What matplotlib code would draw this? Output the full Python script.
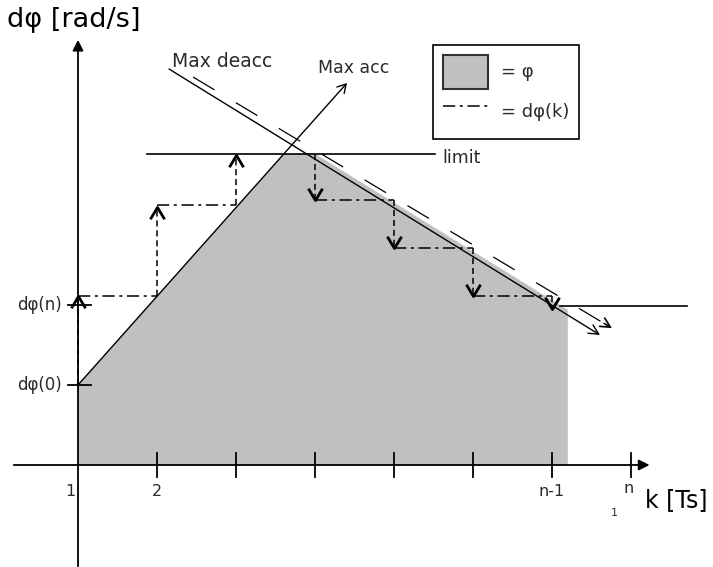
import matplotlib
matplotlib.use("Agg")
import matplotlib.pyplot as plt
from matplotlib.path import Path
from matplotlib.patches import Patch
from matplotlib.lines import Line2D

# --- diagram data (k in samples, y in velocity units) ---
# shaded area phi (velocity profile)
phi_k = [1.0, 3.607, 4.0, 7.1, 7.2, 7.2, 1.0]
phi_y = [1.0, 3.89, 3.89, 2.0, 1.94, 0.0, 0.0]

limit_hi = 3.89
limit_hi_k = [1.873, 5.52]
limit_lo = 1.99
limit_lo_k = [7.10, 8.71]

# max acceleration line
acc_start = (1.0, 1.0)
acc_end = (4.405, 4.775)
# max deceleration lines (solid + dashed parallel)
dec_start = (2.152, 4.95)
dec_end = (7.608, 1.625)
dec2_start = (2.456, 4.85)
dec2_end = (7.76, 1.71)

# step increments dphi(k): vertical (k, from, to) and horizontal (y, k0, k1)
up_steps = [(1, 1.0, 2.11), (2, 2.11, 3.225), (3, 3.25, 3.87)]
down_steps = [(4, 3.89, 3.31), (5, 3.31, 2.71), (6, 2.71, 2.11), (7, 2.11, 1.95)]
hold_steps = [(2.11, 1, 2), (3.25, 2, 3), (3.31, 4, 5), (2.71, 5, 6), (2.11, 6, 7)]

xticks = [1, 2, 3, 4, 5, 6, 7, 8]
xtick_labels = {1: "1", 2: "2", 7: "n-1"}
yticks = [1.0, 2.0]
ytick_labels = ["dφ(0)", "dφ(n)"]

txt = "#2a2a2a"
fig = plt.figure(figsize=(7.13, 5.67), dpi=100)
ax = fig.add_axes([0, 0, 1, 1])
ax.set_xlim(0.01266, 9.038)
ax.set_ylim(-1.275, 5.8125)
ax.axis("off")

ax.fill(phi_k, phi_y, color="#c0c0c0", lw=0, zorder=1)

# axes with arrows
ax.annotate("", xy=(8.27, 0), xytext=(0.152, 0),
            arrowprops=dict(arrowstyle="-|>", color="black", lw=1.3, mutation_scale=16))
ax.annotate("", xy=(1, 5.35), xytext=(1, -1.3),
            arrowprops=dict(arrowstyle="-|>", color="black", lw=1.3, mutation_scale=16))
for k in xticks[1:]:
    ax.plot([k, k], [-0.15, 0.15], color="black", lw=1.3)
for y in yticks:
    ax.plot([0.873, 1.165], [y, y], color="black", lw=1.3)
for k, lab in xtick_labels.items():
    ax.text(k - (0.1 if k == 1 else 0), -0.33, lab, ha="center", va="center",
            fontsize=11.5, color=txt)
ax.text(7.97, -0.29, "n", ha="center", va="center", fontsize=11.5, color=txt)
ax.text(7.785, -0.60, "1", ha="center", va="center", fontsize=8, color=txt)
for y, lab in zip(yticks, ytick_labels):
    ax.text(0.80, y, lab, ha="right", va="center", fontsize=12, color=txt)

ax.text(0.10, 5.56, "dφ [rad/s]", ha="left", va="center", fontsize=19.5, color="black")
ax.text(8.18, -0.44, "k [Ts]", ha="left", va="center", fontsize=17, color="black")

# limits
ax.plot(limit_hi_k, [limit_hi, limit_hi], color="black", lw=1.2)
ax.plot(limit_lo_k, [limit_lo, limit_lo], color="black", lw=1.2)
ax.text(5.61, 3.84, "limit", ha="left", va="center", fontsize=12.5, color=txt)

# max acc / deacc
ax.annotate("", xy=acc_end, xytext=acc_start,
            arrowprops=dict(arrowstyle="->, head_length=0.6, head_width=0.35",
                            color="black", lw=1.0, shrinkA=0, shrinkB=0))
ax.annotate("", xy=dec_end, xytext=dec_start,
            arrowprops=dict(arrowstyle="->, head_length=0.7, head_width=0.35",
                            color="black", lw=1.0, shrinkA=0, shrinkB=0))
ax.plot([dec2_start[0], dec2_end[0]], [dec2_start[1], dec2_end[1]], color="black",
        lw=0.9, linestyle=(0, (20, 20)))
ax.annotate("", xy=dec2_end, xytext=(dec2_end[0] - 0.1, dec2_end[1] + 0.06),
            arrowprops=dict(arrowstyle="->, head_length=0.7, head_width=0.35",
                            color="black", lw=1.2, shrinkA=0, shrinkB=0))
ax.text(2.19, 5.04, "Max deacc", ha="left", va="center", fontsize=13.5, color=txt)
ax.text(4.04, 4.96, "Max acc", ha="left", va="center", fontsize=12.5, color=txt)

# step arrows
up_head = Path([(-0.6, -1), (0, 0), (0.6, -1)], [Path.MOVETO, Path.LINETO, Path.LINETO])
down_head = Path([(-0.6, 1), (0, 0), (0.6, 1)], [Path.MOVETO, Path.LINETO, Path.LINETO])
dashed = (0, (4, 2.5))
dashdot = (0, (8, 3, 2, 3))
for k, y0, y1 in up_steps:
    ax.plot([k, k], [y0, y1], color="black", lw=1.1, linestyle=dashed)
    ax.plot([k], [y1], marker=up_head, ms=17, mew=2, mfc="none", mec="black")
for k, y0, y1 in down_steps:
    ax.plot([k, k], [y0, y1], color="black", lw=1.1, linestyle=dashed)
    ax.plot([k], [y1], marker=down_head, ms=17, mew=2, mfc="none", mec="black")
for y, k0, k1 in hold_steps:
    ax.plot([k0, k1], [y, y], color="black", lw=1.1, linestyle=dashdot)

handles = [Patch(facecolor="#c0c0c0", edgecolor="#333333", lw=1.5),
           Line2D([], [], color="black", lw=1.1, linestyle=dashdot)]
leg = ax.legend(handles, ["= φ", "= dφ(k)"], loc="upper left",
                bbox_to_anchor=(0.607, 0.921), borderaxespad=0, fontsize=13,
                handlelength=2.49, handleheight=2.52, handletextpad=0.72,
                borderpad=0.55, labelspacing=0.33, fancybox=False, framealpha=1)
leg.get_frame().set_edgecolor("black")
leg.get_frame().set_linewidth(1.2)
for t in leg.get_texts():
    t.set_color(txt)

fig.savefig("out.png", dpi=100)
